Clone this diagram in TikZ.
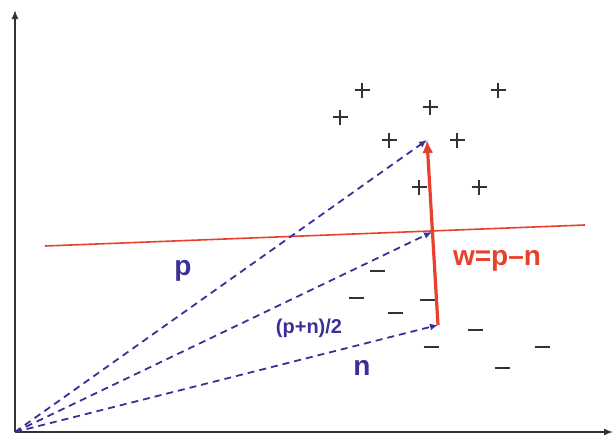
\documentclass[tikz,border=0pt]{standalone}
\usepackage{fontspec}
\setmainfont{Liberation Sans}
\usetikzlibrary{arrows.meta}
\definecolor{vblue}{HTML}{3B3096}
\definecolor{vred}{HTML}{E8402A}
\definecolor{markgray}{HTML}{333333}
\begin{document}
\begin{tikzpicture}[x=1pt,y=-1pt,
  axis/.style={line width=1.6pt,black!80,-{Latex[length=9pt,width=7pt]}},
  vec/.style={vblue,line width=1.8pt,dash pattern=on 7pt off 5pt,-{Latex[length=8pt,width=7pt]}},
  wvec/.style={vred,line width=3.2pt,-{Latex[length=13pt,width=11pt]}},
  plane/.style={vred,line width=1.6pt},
  plusmark/.style={color=markgray,line width=2.2pt},
  lbl/.style={anchor=base,inner sep=0pt,font=\bfseries\fontsize{28}{28}\selectfont},
  pt/.style={inner sep=0pt,minimum size=0pt}]
\useasboundingbox (0,0) rectangle (614,439);
\coordinate (O) at (15,432);
\coordinate (ytop) at (15,10);
\coordinate (xend) at (613,432);
\draw[axis] (O) -- (ytop);
\draw[axis] (O) -- (xend);
\coordinate (h1) at (45,246);
\coordinate (h2) at (585,225);
\draw[plane] (h1) -- (h2);
\coordinate (P) at (427,140);
\coordinate (M) at (432,232);
\coordinate (N) at (438,325);
\draw[vec] (O) -- (P);
\draw[vec] (O) -- (M);
\draw[vec] (O) -- (N);
\draw[wvec] (N) -- (P);
\foreach \x/\y in {362/90,340/117,430/107,498/90,389/140,457/140,419/187,479/187}
  \draw[plusmark] (\x-7.5,\y) -- (\x+7.5,\y) (\x,\y-7.5) -- (\x,\y+7.5);
\foreach \x/\y in {377/271,356/298,427/300,395/313,475/330,431/347,542/347,502/368}
  \draw[plusmark] (\x-7.5,\y) -- (\x+7.5,\y);
\node[lbl,vblue] (lp) at (183,275) {p};
\node[vblue,anchor=base,inner sep=0pt,font=\bfseries\fontsize{20}{20}\selectfont] (lm) at (309,333) {(p+n)/2};
\node[lbl,vblue] (ln) at (362,375) {n};
\node[lbl,vred] (lw) at (497,265) {w=p\textendash n};
\end{tikzpicture}
\end{document}
